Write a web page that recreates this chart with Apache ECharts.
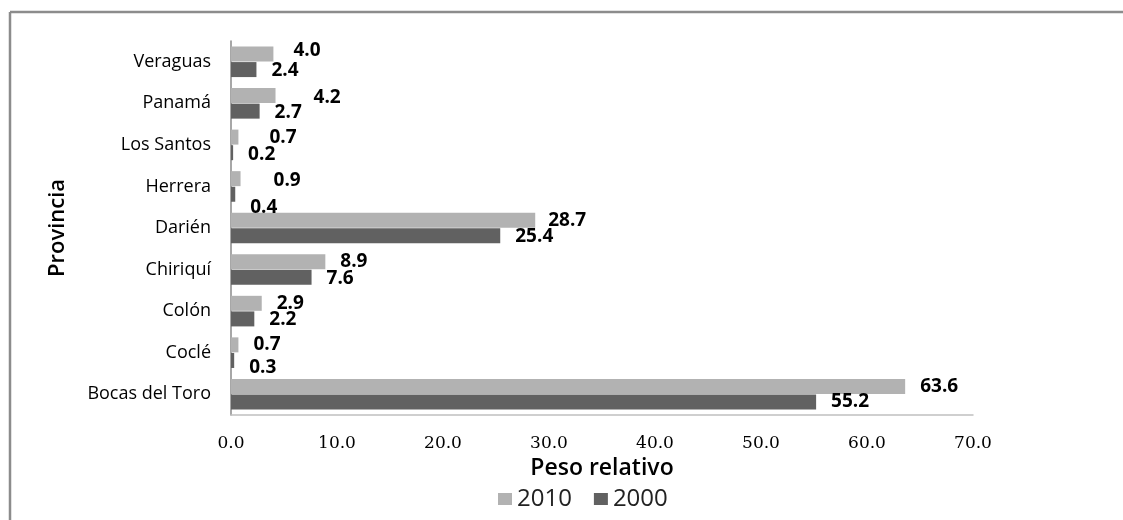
<!DOCTYPE html>
<html>
<head>
<meta charset="utf-8">
<script src="https://cdn.jsdelivr.net/npm/echarts@6/dist/echarts.min.js"></script>
<style>
html,body{margin:0;padding:0;background:#fff;}
#chart{width:1123px;height:520px;}
</style>
</head>
<body>
<div id="chart"></div>
<script>
const categories = ['Bocas del Toro','Coclé','Colón','Chiriquí','Darién','Herrera','Los Santos','Panamá','Veraguas'];
const values2010 = [63.6, 0.7, 2.9, 8.9, 28.7, 0.9, 0.7, 4.2, 4.0];
const values2000 = [55.2, 0.3, 2.2, 7.6, 25.4, 0.4, 0.2, 2.7, 2.4];
const xTicks = [0, 10, 20, 30, 40, 50, 60, 70];

// label nudges (style only), same order as categories
const nudge2010 = [[0,0],[0,0],[0,0],[0,0],[-2,0],[18,2],[16,1],[23,2],[5,-3]];
const nudge2000 = [[0,0],[0,7],[0,1],[0,1],[0,1],[0,13],[0,2],[0,1],[0,1]];

function mk(vals, nudges){
  return vals.map((v,i)=>({value:v, label:{offset:nudges[i]}}));
}

const labelStyle = {
  show:true, position:'right', distance:15,
  formatter: p => p.value.toFixed(1),
  fontFamily:'Open Sans', fontWeight:'bold', fontSize:19, color:'#000'
};

const chart = echarts.init(document.getElementById('chart'), null, {renderer:'canvas'});
chart.setOption({
  animation:false,
  backgroundColor:'#fff',
  grid:{left:231, right:150, top:41, bottom:105, containLabel:false},
  legend:{
    data:['2010','2000'],
    bottom:4, left:493,
    itemWidth:14, itemHeight:12, itemGap:22,
    icon:'rect',
    textStyle:{fontFamily:'Open Sans', fontSize:24, color:'#222'}
  },
  xAxis:{
    type:'value', min:xTicks[0], max:xTicks[xTicks.length-1], interval:10,
    name:'Peso relativo', nameLocation:'middle', nameGap:39,
    nameTextStyle:{fontFamily:'Open Sans', fontWeight:600, fontSize:23, color:'#000'},
    axisLine:{show:true, lineStyle:{color:'#c0c0c0', width:1.5}},
    axisTick:{show:false},
    splitLine:{show:false},
    axisLabel:{margin:20, fontFamily:'DejaVu Serif', fontSize:17, color:'#000',
      formatter: v => v.toFixed(1)}
  },
  yAxis:{
    type:'category', data:categories,
    name:'Provincia', nameLocation:'middle', nameGap:162, nameRotate:90,
    nameTextStyle:{fontFamily:'Open Sans', fontWeight:600, fontSize:22, color:'#000'},
    axisLine:{show:true, lineStyle:{color:'#8a8a8a', width:1.5}},
    axisTick:{show:false},
    axisLabel:{margin:20, fontFamily:'Open Sans', fontSize:18, color:'#000'}
  },
  series:[
    {name:'2010', type:'bar', data:mk(values2010, nudge2010), barWidth:15, barGap:'4%',
     itemStyle:{color:'#b2b2b2'}, label:labelStyle},
    {name:'2000', type:'bar', data:mk(values2000, nudge2000), barWidth:15, barGap:'4%',
     itemStyle:{color:'#616161'}, label:labelStyle}
  ],
  graphic:[
    {type:'line', shape:{x1:10, y1:12, x2:1123, y2:12}, style:{stroke:'#8c8c8c', lineWidth:2.5}},
    {type:'line', shape:{x1:10, y1:12, x2:10, y2:520}, style:{stroke:'#8c8c8c', lineWidth:2.5}}
  ]
});
</script>
</body>
</html>
